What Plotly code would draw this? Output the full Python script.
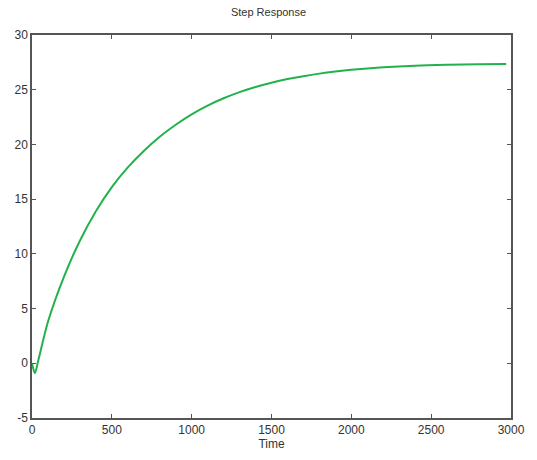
import plotly.graph_objects as go

time = [0, 18, 40, 100, 200, 300, 400, 500, 600, 700, 800, 900, 1000, 1100, 1200,
        1300, 1400, 1500, 1600, 1700, 1800, 1900, 2000, 2200, 2400, 2600, 2800, 2970]
response = [0.0, -0.9, 0.3, 3.8, 7.9, 11.2, 13.9, 16.1, 17.9, 19.4, 20.7, 21.8, 22.75, 23.55, 24.22,
            24.78, 25.25, 25.64, 25.97, 26.24, 26.47, 26.66, 26.82, 27.05, 27.2, 27.28, 27.33, 27.36]

title_text = "Step Response"
x_label = "Time"
x_ticks = [0, 500, 1000, 1500, 2000, 2500, 3000]
y_ticks = [-5, 0, 5, 10, 15, 20, 25, 30]

fig = go.Figure()
fig.add_trace(go.Scatter(x=time, y=response, mode="lines",
                         line=dict(color="#22b24c", width=2, shape="spline", smoothing=0.8),
                         showlegend=False))

axis_common = dict(showgrid=False, zeroline=False, showline=True, linecolor="#555555",
                   linewidth=1.5, mirror="ticks", ticks="inside", ticklen=4,
                   tickcolor="#555555", tickwidth=1,
                   tickfont=dict(family="Liberation Sans, Arial, sans-serif", size=12, color="#333333"))

fig.update_layout(
    width=537, height=460,
    margin=dict(l=32, r=17, t=35, b=38),
    paper_bgcolor="white", plot_bgcolor="white",
    title=dict(text=title_text, x=0.5, xanchor="center", y=1 - 12 / 460, yanchor="middle",
               font=dict(family="Liberation Sans, Arial, sans-serif", size=11, color="#333333")),
    xaxis=dict(range=[0, 3000], tickvals=x_ticks, ticktext=[str(v) for v in x_ticks],
               title=dict(text=x_label, standoff=2,
                          font=dict(family="Liberation Sans, Arial, sans-serif", size=12, color="#333333")),
               **axis_common),
    yaxis=dict(range=[-5, 30], tickvals=y_ticks, ticktext=[str(v) for v in y_ticks], **axis_common),
)

fig.write_html("out.html")
